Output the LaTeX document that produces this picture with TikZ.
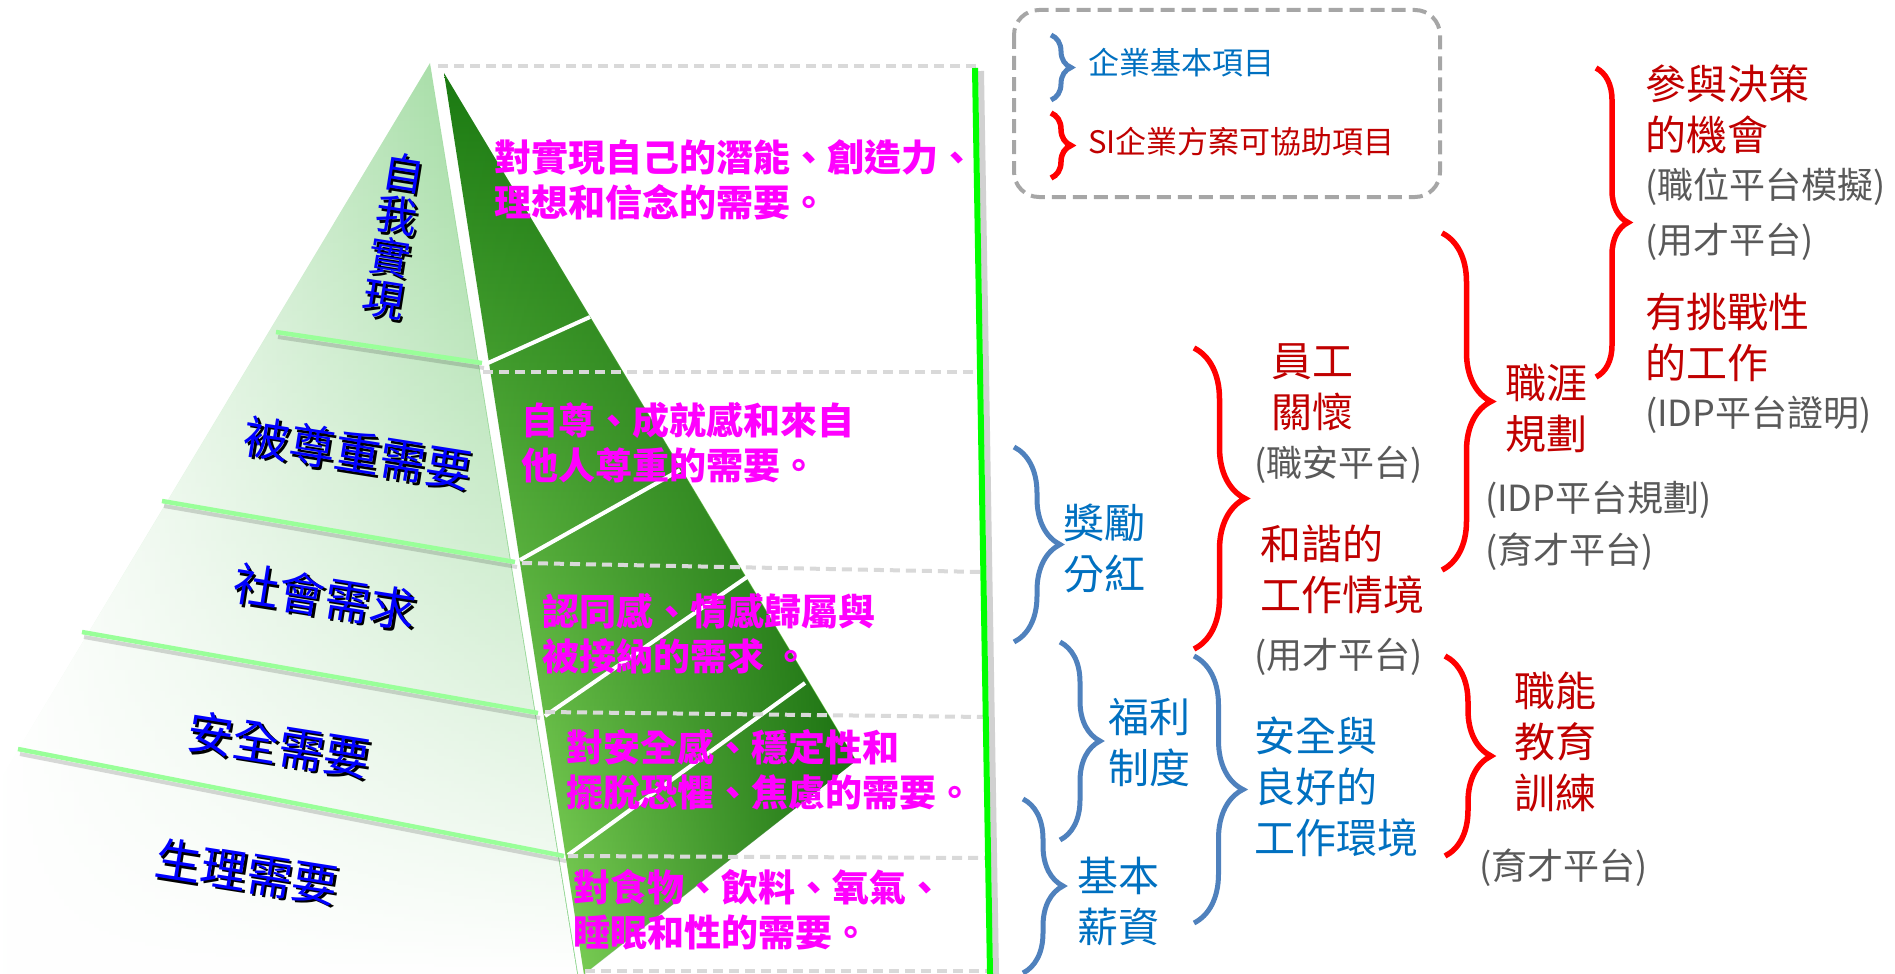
\documentclass[tikz,border=0pt]{standalone}
\usepackage{fontspec}
\setmainfont{Noto Sans CJK TC}
\usetikzlibrary{decorations.pathreplacing, fadings}

\definecolor{needpink}{HTML}{FF00FF}
\definecolor{lvlblue}{HTML}{0000FF}
\definecolor{itemred}{HTML}{C00000}
\definecolor{itemblue}{HTML}{0070C0}
\definecolor{platgray}{HTML}{595959}
\definecolor{bracered}{HTML}{FF0000}
\definecolor{braceblue}{HTML}{4F81BD}
\definecolor{bandgreen}{HTML}{99FF99}
\definecolor{rulegreen}{HTML}{00FF00}
\definecolor{dashgray}{HTML}{D9D9D9}
\definecolor{boxgray}{HTML}{A6A6A6}
\definecolor{faceleft}{HTML}{8DD48D}
\definecolor{facetop}{HTML}{1B7A12}
\definecolor{facemid}{HTML}{74CC4C}
\definecolor{facelow}{HTML}{A6F874}
\definecolor{facedark}{HTML}{1C7212}

\tikzfading[name=darkright, left color=transparent!100, middle color=transparent!100, right color=transparent!0]
\tikzfading[name=paledown, top color=transparent!100, middle color=transparent!100, bottom color=transparent!0]

\tikzset{
  band/.style={bandgreen, line width=4.5pt},
  bandshadow/.style={black, opacity=.15, line width=4pt},
  tierline/.style={dashgray, line width=4pt, dash pattern=on 10pt off 6pt},
  lvl/.style={text=lvlblue, font=\fontsize{46}{46}\selectfont, rotate=-9, inner sep=0pt},
  lvlcol/.style={lvl, align=center, font=\fontsize{42}{42.5}\selectfont},
  need/.style={text=needpink, font=\bfseries\fontsize{37}{45}\selectfont, align=left, anchor=west, inner sep=0pt},
  item/.style={font=\fontsize{41}{51}\selectfont, align=left, anchor=west, inner sep=0pt},
  plat/.style={text=platgray, font=\fontsize{36}{40}\selectfont, anchor=west, inner sep=0pt},
  keytext/.style={font=\fontsize{31}{34}\selectfont, anchor=west, inner sep=0pt},
  redbrace/.style={draw=bracered, line width=5.5pt, decorate, decoration={brace, amplitude=#1}},
  bluebrace/.style={draw=braceblue, line width=5pt, decorate, decoration={brace, amplitude=#1}}
}

\begin{document}
\begin{tikzpicture}[x=1pt, y=-1pt]
  \useasboundingbox (0,0) rectangle (1895,974);
  % Pyramid faces
  \shade[left color=white, right color=faceleft]
    (430,63) -- (578,974) -- (0,974) -- (0,780) -- cycle;
  \fill[white, path fading=paledown] (430,63) -- (578,974) -- (0,974) -- (0,780) -- cycle;
  \shade[top color=facetop, middle color=facemid, bottom color=facelow] (444,73) -- (856,760) -- (584,974) -- cycle;
  \fill[facedark, path fading=darkright] (444,73) -- (856,760) -- (584,974) -- cycle;
  % Level borders
  \foreach \xa/\ya/\xb/\yb in {276/332/482/363, 162/501/515/562, 82/632/538/713, 18/749/564/856}
  {
    \draw[bandshadow] (\xa+2,\ya+5) -- (\xb+2,\yb+5);
    \draw[band] (\xa,\ya) -- (\xb,\yb);
  }
  \foreach \xa/\ya/\xb/\yb in {488/363/590/317, 520/560/680/470, 545/716/747/577, 568/855/805/683}
    \draw[white, line width=4pt] (\xa,\ya) -- (\xb,\yb);
  % Tier lines
  \foreach \xa/\ya/\xb/\yb in {438/66/976/66, 483/372/980/372, 522/563/983/572, 545/712/986/717, 568/856/988/858, 585/971/990/971}
    \draw[tierline] (\xa,\ya) -- (\xb,\yb);
  % Green rule
  \draw[black!40, opacity=.45, line width=6pt] (981,71) -- (996,974);
  \draw[rulegreen, line width=6pt] (975,68) -- (990,974);

  % Level names
  \node[lvlcol, text=black] (topsh) at (396,239) {自\\我\\實\\現};
  \node[lvlcol] (top) at (393.5,236.5) {自\\我\\實\\現};
  \foreach \txt/\x/\y [count=\i] in {被尊重需要/358/453, 社會需求/325/597, 安全需要/279/745, 生理需要/247/872}
  {
    \node[lvl, text=black] (lvlsh\i) at (\x+2.5,\y+2.5) {\txt};
    \node[lvl] (lvl\i) at (\x,\y) {\txt};
  }

  % Needs
  \node[need] (need5) at (494,180) {對實現自己的潛能、創造力、\\理想和信念的需要。};
  \node[need] (need4) at (521,443) {自尊、成就感和來自\\他人尊重的需要。};
  \node[need] (need3) at (542,634) {認同感、情感歸屬與\\被接納的需求 。};
  \node[need] (need2) at (566,770) {對安全感、穩定性和\\擺脫恐懼、焦慮的需要。};
  \node[need] (need1) at (573,910) {對食物、飲料、氧氣、\\睡眠和性的需要。};

  % Key
  \draw[boxgray, line width=4pt, dash pattern=on 14pt off 7pt, rounded corners=25pt]
    (1014,10) rectangle (1440,197);
  \coordinate (kb1) at (1051,35);  \coordinate (kb2) at (1051,100);
  \coordinate (kr1) at (1051,113); \coordinate (kr2) at (1051,178);
  \draw[bluebrace=20] (kb1) -- (kb2);
  \draw[redbrace=20] (kr1) -- (kr2);
  \node[keytext, text=itemblue] (keyblue) at (1088,63) {企業基本項目};
  \node[keytext, text=itemred] (keyred) at (1088,142) {SI企業方案可協助項目};

  % Company basics
  \node[item, text=itemblue] (rewd) at (1063,548) {獎勵\\分紅};
  \node[item, text=itemblue] (welf) at (1108,743) {福利\\制度};
  \node[item, text=itemblue] (base) at (1077,901) {基本\\薪資};
  \node[item, text=itemblue] (envr) at (1254,787) {安全與\\良好的\\工作環境};
  \coordinate (rw1) at (1014,447); \coordinate (rw2) at (1014,642);
  \coordinate (wf1) at (1060,642); \coordinate (wf2) at (1060,840);
  \coordinate (bs1) at (1023,799); \coordinate (bs2) at (1023,973);
  \coordinate (ev1) at (1194,656); \coordinate (ev2) at (1194,923);
  \draw[bluebrace=46] (rw1) -- (rw2);
  \draw[bluebrace=40] (wf1) -- (wf2);
  \draw[bluebrace=40] (bs1) -- (bs2);
  \draw[bluebrace=49] (ev1) -- (ev2);

  % SI items
  \node[item, text=itemred] (care) at (1271,387) {員工\\關懷};
  \node[plat] (carep) at (1254,465) {(職安平台)};
  \node[item, text=itemred] (harm) at (1260,570) {和諧的\\工作情境};
  \node[plat] (harmp) at (1254,657) {(用才平台)};
  \node[item, text=itemred] (path) at (1505,408) {職涯\\規劃};
  \node[plat] (pathp1) at (1485,500) {(IDP平台規劃)};
  \node[plat] (pathp2) at (1485,552) {(育才平台)};
  \node[item, text=itemred] (comp) at (1514,742) {職能\\教育\\訓練};
  \node[plat] (compp) at (1479,868) {(育才平台)};
  \node[item, text=itemred] (dec) at (1645,109) {參與決策\\的機會};
  \node[plat] (decp1) at (1645,187) {(職位平台模擬)};
  \node[plat] (decp2) at (1645,242) {(用才平台)};
  \node[item, text=itemred] (chal) at (1645,337) {有挑戰性\\的工作};
  \node[plat] (chalp) at (1645,415) {(IDP平台證明)};
  \coordinate (cr1) at (1194,348); \coordinate (cr2) at (1194,649);
  \coordinate (pt1) at (1442,233); \coordinate (pt2) at (1442,570);
  \coordinate (cp1) at (1445,656); \coordinate (cp2) at (1445,856);
  \coordinate (dc1) at (1596,68);  \coordinate (dc2) at (1596,377);
  \draw[redbrace=51] (cr1) -- (cr2);
  \draw[redbrace=49] (pt1) -- (pt2);
  \draw[redbrace=46] (cp1) -- (cp2);
  \draw[redbrace=32] (dc1) -- (dc2);
\end{tikzpicture}
\end{document}
